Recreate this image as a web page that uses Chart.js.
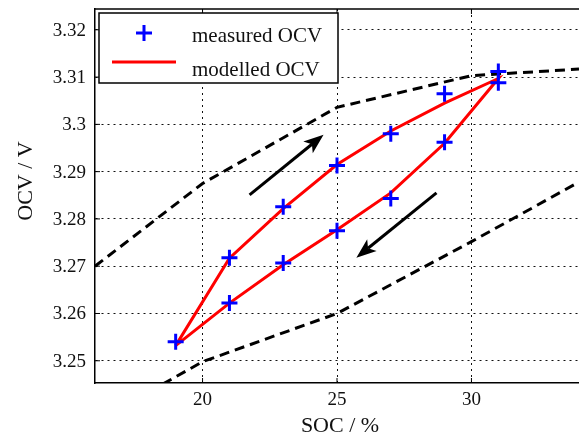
<!DOCTYPE html>
<html>
<head>
<meta charset="utf-8">
<script src="https://cdn.jsdelivr.net/npm/chart.js@4"></script>
<style>
  html, body { margin: 0; padding: 0; background: #fff; }
  #wrap { width: 579px; height: 438px; }
</style>
</head>
<body>
<div id="wrap"><canvas id="myChart" width="579" height="438"></canvas></div>
<script>
// measured OCV points (charge branch, then discharge branch)
const measuredSoc = [19, 21, 23, 25, 27, 29, 31, 31, 29, 27, 25, 23, 21];
const measuredOcv = [3.2540, 3.2718, 3.2826, 3.2913, 3.2980, 3.3065, 3.3112, 3.3088, 3.2962, 3.2843, 3.2775, 3.2707, 3.2622];

// modelled OCV loop
const modelSoc = [19, 21, 23, 25, 27, 29, 31, 29, 27, 25, 23, 21, 19];
const modelOcv = [3.2532, 3.2717, 3.2822, 3.2915, 3.2986, 3.3045, 3.3097, 3.2960, 3.2855, 3.2777, 3.2703, 3.2622, 3.2532];

// dashed boundary curves
const upperSoc = [16, 20, 25, 30, 34];
const upperOcv = [3.2700, 3.2875, 3.3036, 3.3103, 3.3117];
const lowerSoc = [18, 20, 25, 30, 34];
const lowerOcv = [3.2434, 3.2498, 3.2600, 3.2752, 3.2878];

// direction arrows [x0, y0, x1, y1] in SOC / OCV units
const arrowCharge = [21.75, 3.2851, 24.5, 3.2978];
const arrowDischarge = [28.7, 3.2855, 25.72, 3.2718];

const xTicks = [20, 25, 30];
const xTickLabels = ['20', '25', '30'];
const yTicks = [3.25, 3.26, 3.27, 3.28, 3.29, 3.30, 3.31, 3.32];
const yTickLabels = ['3.25', '3.26', '3.27', '3.28', '3.29', '3.3', '3.31', '3.32'];

const serif = "'Liberation Serif', 'DejaVu Serif', serif";

function pts(xs, ys) {
    return xs.map((x, i) => ({ x: x, y: ys[i] }));
}

// frame, tick labels, arrows, legend and axis titles
const extras = {
    id: 'extras',
    afterDatasetsDraw(chart) {
        const c = chart.ctx;
        const area = chart.chartArea;
        const xs = chart.scales.x;
        const ys = chart.scales.y;

        c.save();
        c.strokeStyle = '#000';
        c.lineWidth = 1.5;
        c.beginPath();
        c.moveTo(area.left, area.top);
        c.lineTo(area.right, area.top);
        c.stroke();

        // inner tick marks
        c.lineWidth = 1;
        c.beginPath();
        yTicks.forEach(v => {
            const y = ys.getPixelForValue(v);
            c.moveTo(area.left, y);
            c.lineTo(area.left + 5, y);
        });
        xTicks.forEach(v => {
            const x = xs.getPixelForValue(v);
            c.moveTo(x, area.bottom);
            c.lineTo(x, area.bottom - 5);
            c.moveTo(x, area.top);
            c.lineTo(x, area.top + 5);
        });
        c.stroke();

        // tick labels
        c.fillStyle = '#111';
        c.font = '19px ' + serif;
        c.textBaseline = 'middle';
        c.textAlign = 'right';
        yTicks.forEach((v, i) => {
            c.fillText(yTickLabels[i], area.left - 9, ys.getPixelForValue(v) + 1);
        });
        c.textAlign = 'center';
        xTicks.forEach((v, i) => {
            c.fillText(xTickLabels[i], xs.getPixelForValue(v), area.bottom + 17);
        });

        // arrows
        [arrowCharge, arrowDischarge].forEach(a => {
            const x0 = xs.getPixelForValue(a[0]), y0 = ys.getPixelForValue(a[1]);
            const x1 = xs.getPixelForValue(a[2]), y1 = ys.getPixelForValue(a[3]);
            const ang = Math.atan2(y1 - y0, x1 - x0);
            const ca = Math.cos(ang), sa = Math.sin(ang);
            const hl = 20, hw = 7.5;
            const bx = x1 - hl * ca, by = y1 - hl * sa;
            c.strokeStyle = '#000';
            c.fillStyle = '#000';
            c.lineWidth = 3;
            c.beginPath();
            c.moveTo(x0, y0);
            c.lineTo(bx + 5 * ca, by + 5 * sa);
            c.stroke();
            c.beginPath();
            c.moveTo(x1, y1);
            c.lineTo(bx + hw * sa, by - hw * ca);
            c.lineTo(bx + 5 * ca, by + 5 * sa);
            c.lineTo(bx - hw * sa, by + hw * ca);
            c.closePath();
            c.fill();
        });

        // legend
        const lx = area.left + 4, ly = area.top + 4, lw = 239, lh = 70;
        c.fillStyle = '#fff';
        c.fillRect(lx, ly, lw, lh);
        c.strokeStyle = '#000';
        c.lineWidth = 1.5;
        c.strokeRect(lx, ly, lw, lh);

        const ds = chart.data.datasets;
        c.strokeStyle = ds[0].borderColor;
        c.lineWidth = 3;
        c.beginPath();
        c.moveTo(lx + 37, ly + 20);
        c.lineTo(lx + 53, ly + 20);
        c.moveTo(lx + 45, ly + 12);
        c.lineTo(lx + 45, ly + 28);
        c.stroke();

        c.strokeStyle = ds[1].borderColor;
        c.beginPath();
        c.moveTo(lx + 13, ly + 49);
        c.lineTo(lx + 77, ly + 49);
        c.stroke();

        c.fillStyle = '#111';
        c.font = '21px ' + serif;
        c.textBaseline = 'alphabetic';
        c.textAlign = 'left';
        c.fillText(ds[0].label, lx + 93, ly + 29);
        c.fillText(ds[1].label, lx + 93, ly + 63);

        // axis titles
        c.font = '22px ' + serif;
        c.textAlign = 'center';
        c.textBaseline = 'middle';
        c.fillText('SOC / %', 340, 426);
        c.save();
        c.translate(26, 181);
        c.rotate(-Math.PI / 2);
        c.fillText('OCV / V', 0, 0);
        c.restore();
        c.restore();
    }
};

const ctx = document.getElementById('myChart').getContext('2d');
const myChart = new Chart(ctx, {
    type: 'scatter',
    data: {
        datasets: [
            {
                label: 'measured OCV',
                data: pts(measuredSoc, measuredOcv),
                showLine: false,
                pointStyle: 'cross',
                pointRadius: 8,
                pointBorderWidth: 3,
                borderColor: '#0000ff',
                backgroundColor: '#0000ff',
            },
            {
                label: 'modelled OCV',
                data: pts(modelSoc, modelOcv),
                showLine: true,
                pointRadius: 0,
                borderColor: '#ff0000',
                borderWidth: 3,
            },
            {
                label: 'upper',
                data: pts(upperSoc, upperOcv),
                showLine: true,
                pointRadius: 0,
                borderColor: '#000',
                borderWidth: 3,
                borderDash: [10, 6],
            },
            {
                label: 'lower',
                data: pts(lowerSoc, lowerOcv),
                showLine: true,
                pointRadius: 0,
                borderColor: '#000',
                borderWidth: 3,
                borderDash: [10, 6],
            },
        ],
    },
    options: {
        responsive: false,
        animation: false,
        devicePixelRatio: 1,
        layout: { autoPadding: false, padding: { top: 9, right: 0, left: 0, bottom: 0 } },
        plugins: {
            legend: { display: false },
            tooltip: { enabled: false },
        },
        scales: {
            x: {
                type: 'linear',
                min: 16,
                max: 34,
                afterBuildTicks: axis => { axis.ticks = xTicks.map(v => ({ value: v })); },
                afterFit: axis => { axis.height = 55; },
                grid: { color: '#111', lineWidth: 1, drawTicks: false },
                border: { color: '#000', width: 1.5, dash: [2, 4] },
                ticks: { display: false },
            },
            y: {
                type: 'linear',
                min: 3.2453,
                max: 3.3244,
                afterBuildTicks: axis => { axis.ticks = yTicks.map(v => ({ value: v })); },
                afterFit: axis => { axis.width = 95; },
                grid: { color: '#111', lineWidth: 1, drawTicks: false },
                border: { color: '#000', width: 1.5, dash: [2, 4] },
                ticks: { display: false },
            },
        },
    },
    plugins: [extras],
});
</script>
</body>
</html>
